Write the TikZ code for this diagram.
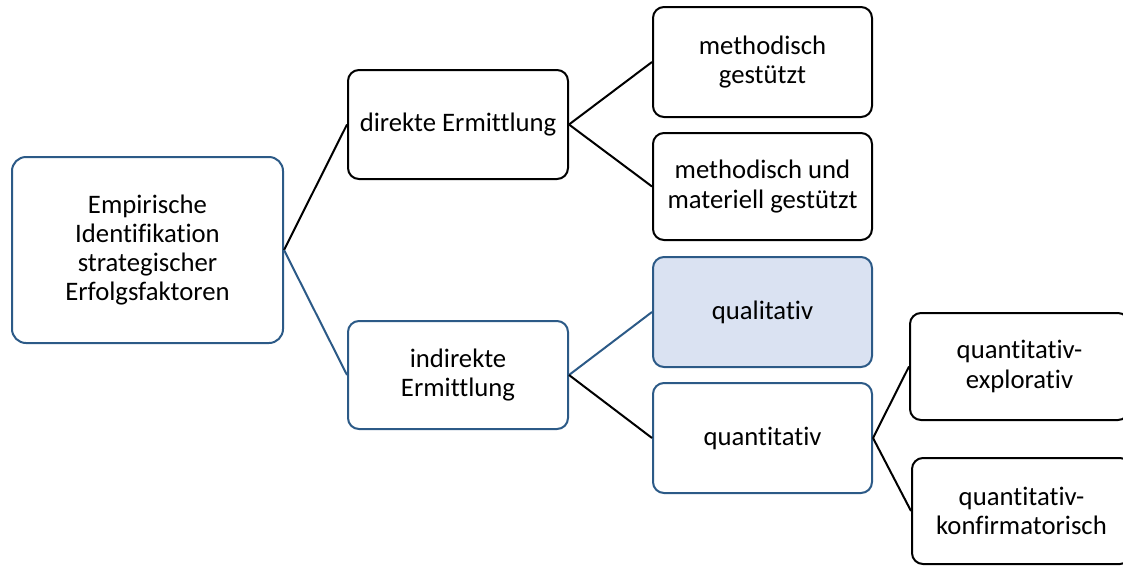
\documentclass[tikz,border=0pt]{standalone}
\usepackage{fontspec}
\setmainfont{Carlito}[Ligatures=NoCommon]
\definecolor{bblue}{HTML}{2C5A87}
\definecolor{bfill}{HTML}{DAE2F2}
\begin{document}
\begin{tikzpicture}[x=1pt,y=-1pt,
  box/.style={draw,line width=2pt,rounded corners=11pt,align=center,inner sep=0pt,
    font=\fontsize{26.7}{29.3}\selectfont,text=black,fill=white},
  bbox/.style={box,draw=bblue},
  kbox/.style={box,draw=black},
  bline/.style={draw=bblue,line width=2pt},
  kline/.style={draw=black,line width=2pt}]
\useasboundingbox (0,0) rectangle (1123,565);
\begin{scope}
\clip (0,0) rectangle (1123,565);
\node[bbox,minimum width=271pt,minimum height=186pt,rounded corners=14pt] (root) at (147.5,250)
  {Empirische\\Identifikation\\strategischer\\Erfolgsfaktoren};
\node[kbox,minimum width=220pt,minimum height=109pt] (dir) at (458,124.5) {direkte Ermittlung};
\node[bbox,minimum width=220pt,minimum height=108pt] (ind) at (458,375) {indirekte\\Ermittlung};
\node[kbox,minimum width=219pt,minimum height=110pt] (mg) at (762.5,62) {methodisch\\gestützt};
\node[kbox,minimum width=219pt,minimum height=107pt] (mm) at (762.5,186.5) {methodisch und\\materiell gestützt};
\node[bbox,fill=bfill,minimum width=219pt,minimum height=110pt] (ql) at (762.5,312) {qualitativ};
\node[bbox,minimum width=219pt,minimum height=110pt] (qn) at (762.5,438) {quantitativ};
\node[kbox,minimum width=219pt,minimum height=107pt] (qe) at (1019.5,366.5) {quantitativ-\\explorativ};
\node[kbox,minimum width=219pt,minimum height=106pt] (qk) at (1021.5,511) {quantitativ-\\konfirmatorisch};
\draw[kline] (root.east) -- (dir.west);
\draw[bline] (root.east) -- (ind.west);
\draw[kline] (dir.east) -- (mg.west);
\draw[kline] (dir.east) -- (mm.west);
\draw[bline] (ind.east) -- (ql.west);
\draw[kline] (ind.east) -- (qn.west);
\draw[kline] (qn.east) -- (qe.west);
\draw[kline] (qn.east) -- (qk.west);
\end{scope}
\end{tikzpicture}
\end{document}
